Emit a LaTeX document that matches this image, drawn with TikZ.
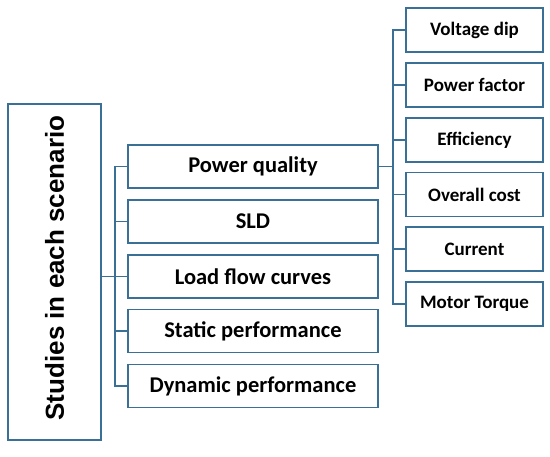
\documentclass[tikz,border=0pt]{standalone}
\usepackage{fontspec}
\newfontfamily\carlito{Carlito}
\newfontfamily\arialfont{Liberation Sans}
\definecolor{edgeblue}{HTML}{3A6F96}
\begin{document}
\begin{tikzpicture}[x=1pt,y=-1pt,
  box/.style={draw=edgeblue,line width=1.6pt,fill=white,inner sep=0pt,align=center},
  midbox/.style={box,minimum width=250pt,minimum height=43pt,font=\carlito\bfseries\fontsize{22.5}{26}\selectfont},
  rbox/.style={box,minimum width=137pt,minimum height=44pt,font=\carlito\bfseries\fontsize{19}{22}\selectfont},
  conn/.style={draw=edgeblue,line width=1.6pt}]
\useasboundingbox (0,0) rectangle (550,457);
\node[box,minimum width=93pt,minimum height=336pt] (L) at (54.5,272) {};
\node[rotate=90,font=\arialfont\bfseries\fontsize{26}{30}\selectfont,inner sep=0pt] (Lt) at (54.5,268) {Studies in each scenario};
\node[midbox] (pq) at (253,166.5) {Power quality};
\node[midbox] (sld) at (253,221.5) {SLD};
\node[midbox] (lf) at (253,276.5) {Load flow curves};
\node[midbox] (sp) at (253,331) {Static performance};
\node[midbox] (dp) at (253,386) {Dynamic performance};
\node[rbox] (r1) at (474.5,30) {Voltage dip};
\node[rbox] (r2) at (474.5,85) {Power factor};
\node[rbox] (r3) at (474.5,140) {Efficiency};
\node[rbox] (r4) at (474.5,194.5) {Overall cost};
\node[rbox] (r5) at (474.5,249) {Current};
\node[rbox] (r6) at (474.5,304) {Motor Torque};
\coordinate (t1) at (115,0);
\coordinate (t2) at (393,0);
\draw[conn] (L.east |- lf.west) -- (lf.west -| t1);
\draw[conn] (pq.west) -- (pq.west -| t1) -- (dp.west -| t1) -- (dp.west);
\draw[conn] (sld.west) -- (sld.west -| t1);
\draw[conn] (lf.west) -- (lf.west -| t1);
\draw[conn] (sp.west) -- (sp.west -| t1);
\draw[conn] (pq.east) -- (pq.east -| t2);
\draw[conn] (r1.west) -- (r1.west -| t2) -- (r6.west -| t2) -- (r6.west);
\draw[conn] (r2.west) -- (r2.west -| t2);
\draw[conn] (r3.west) -- (r3.west -| t2);
\draw[conn] (r4.west) -- (r4.west -| t2);
\draw[conn] (r5.west) -- (r5.west -| t2);
\end{tikzpicture}
\end{document}
